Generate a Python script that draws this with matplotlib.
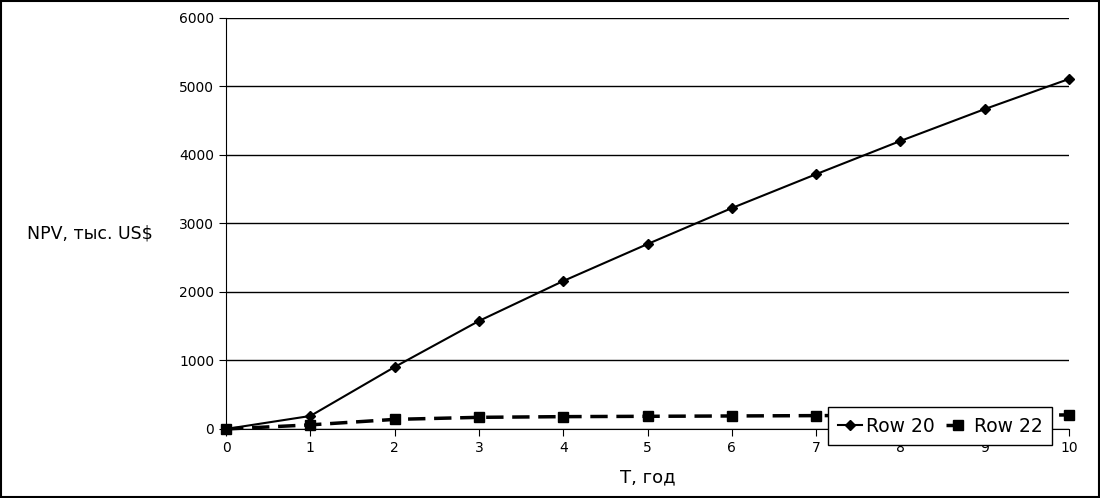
import numpy as np
import matplotlib.pyplot as plt

# years
T = [0, 1, 2, 3, 4, 5, 6, 7, 8, 9, 10]
# NPV, thousand US$
row20 = [0, 190, 905, 1577, 2160, 2700, 3225, 3720, 4205, 4670, 5110]
row22 = [0, 60, 140, 170, 180, 185, 190, 195, 200, 200, 205]

fig = plt.figure(figsize=(11, 4.98), dpi=100)
ax = fig.add_axes([0.2055, 0.1386, 0.7664, 0.8253])

ax.plot(T, row20, color='black', lw=1.5, marker='D', ms=5, label='Row 20', clip_on=False, zorder=3)
ax.plot(T, row22, color='black', lw=2.5, ls=(0, (5, 2.5)), marker='s', ms=7, label='Row 22', clip_on=False, zorder=3)

ax.set_xlim(0, 10)
ax.set_ylim(0, 6000)
ax.set_xticks(range(0, 11))
ax.set_yticks(range(0, 6001, 1000))
ax.yaxis.grid(True, color='black', lw=1)
ax.set_axisbelow(True)
for s in ['top', 'right']:
    ax.spines[s].set_visible(False)
ax.tick_params(labelsize=10, length=5, color='black')

ax.set_xlabel('T, год', fontsize=13, labelpad=10)
fig.text(0.082, 0.532, 'NPV, тыс. US$', fontsize=12.5, ha='center', va='center')

leg = ax.legend(loc='lower right', bbox_to_anchor=(0.98, -0.039), ncol=2, fontsize=13.5,
                frameon=True, fancybox=False, framealpha=1, handlelength=1.3, handletextpad=0.2,
                columnspacing=0.6, borderpad=0.5, borderaxespad=0)
leg.get_frame().set_edgecolor('black')
leg.get_frame().set_linewidth(1)
leg.set_zorder(5)

# outer border
fig.patches.append(plt.Rectangle((0.001, 0.002), 0.998, 0.996, transform=fig.transFigure,
                                 fill=False, edgecolor='black', lw=1.5))

fig.savefig('out.png', dpi=100)
